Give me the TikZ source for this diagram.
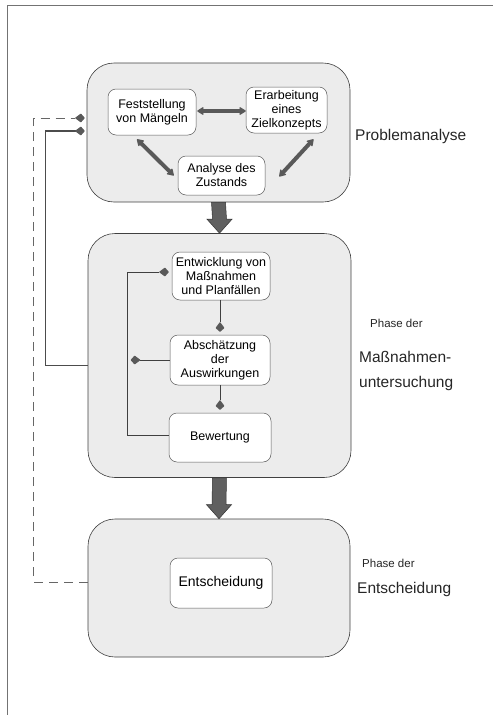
\documentclass[tikz,border=0pt]{standalone}
\usepackage{fontspec}
\setmainfont{Liberation Sans}
\usetikzlibrary{arrows.meta,calc}

\tikzset{
  phase/.style={draw=black!75, line width=0.6pt, fill=gray!15,
    rounded corners=27pt, inner sep=0pt},
  stepbox/.style={draw=black!65, line width=0.5pt, fill=white,
    rounded corners=8pt, align=center, inner sep=1pt,
    font=\fontsize{12.5}{14}\selectfont},
  biglabel/.style={anchor=west, align=left, inner sep=0pt,
    font=\fontsize{15.5}{25}\selectfont, text=black!85},
  smalllabel/.style={anchor=west, inner sep=0pt,
    font=\fontsize{11.5}{13}\selectfont, text=black!85},
  blobtip/.tip={Kite[length=10pt,width=9pt,inset=6pt,round,line width=1pt,
    fill=gray!70!black, color=gray!70!black]},
  twoway/.style={draw=gray!70!black, line width=4pt,
    {Stealth[length=8pt,width=10pt,round]}-{Stealth[length=8pt,width=10pt,round]}},
  blob/.style={-blobtip, draw=black!75, line width=0.6pt, shorten >=3pt},
  feedback/.style={draw=black!70, line width=1.4pt, -blobtip, shorten >=2pt},
  feedbackdash/.style={draw=black!60, line width=0.6pt, dash pattern=on 9pt off 6pt,
    -blobtip, shorten >=2pt},
  bigarrow/.style={draw=black!80, line width=0.5pt, fill=gray!75!black},
}

\begin{document}
\begin{tikzpicture}[x=1pt, y=-1pt]
\useasboundingbox (0,0) rectangle (493,715);

% page frame
\draw[black!55, line width=0.7pt] (7,715) -- (7,5) -- (493,5);

% the three phases
\node[phase, minimum width=263pt, minimum height=139pt] (P1) at (218.5,132.5) {};
\node[phase, minimum width=263pt, minimum height=244pt] (P2) at (219.5,355.5) {};
\node[phase, minimum width=262pt, minimum height=138pt] (P3) at (219,588) {};

% Problemanalyse
\node[stepbox, minimum width=88pt, minimum height=46pt] (Fest) at (152,112)
  {Feststellung\\von Mängeln};
\node[stepbox, minimum width=81pt, minimum height=46pt] (Erar) at (286.5,110)
  {Erarbeitung\\eines\\Zielkonzepts};
\node[stepbox, minimum width=87pt, minimum height=39pt] (Anal) at (221.5,175.5)
  {Analyse des\\Zustands};

\draw[twoway] (Fest.east) ++(1,-1) coordinate (fe) -- (fe -| Erar.west);
\draw[twoway] ($(Fest.south)+(-15,4)$) -- ($(Anal.west)+(-4,0)$);
\draw[twoway] ($(Erar.south)+(27,6)$) -- ($(Anal.east)+(14,1)$);

% Maßnahmenuntersuchung
\node[stepbox, minimum width=98pt, minimum height=48pt] (Entw) at (221,276)
  {Entwicklung von\\Maßnahmen\\und Planfällen};
\node[stepbox, minimum width=100pt, minimum height=50pt] (Absch) at (220,360)
  {Abschätzung\\der\\Auswirkungen};
\node[stepbox, minimum width=102pt, minimum height=49pt] (Bew) at (220,437.5)
  {Bewertung};

\draw[blob] (Entw.south -| Absch.north) -- (Absch.north);
\draw[blob] (Absch.south) -- (Bew.north);
\coordinate (loop) at ($(Bew.west)+(-41,-2)$);
\draw[blob] ($(Bew.west)+(0,-2)$) -- (loop) |- ($(Entw.west)+(0,-4)$);
\draw[blob] (Absch.west) -- (Absch.west -| loop);

% Entscheidung
\node[stepbox, minimum width=102pt, minimum height=50pt,
  font=\fontsize{14}{16}\selectfont] (Ents) at (221,583) {Entscheidung};

% transitions between the phases
\foreach \a/\b in {P1/P2, P2/P3}{
  \draw[bigarrow] ($(\a.south)+(-7,0)$) -- ($(\b.north)+(-7,-14)$) -- ++(-5.5,0)
    -- (\b.north) -- ($(\b.north)+(12.5,-14)$) -- ++(-5.5,0)
    -- ($(\a.south)+(7,0)$) -- cycle;
}

% returns to the problem analysis
\draw[feedback] ($(P2.west)+(0,10)$) -- ++(-42,0) |- ($(P1.west)+(0,-1.5)$);
\draw[feedbackdash] ($(P3.west)+(0,-6)$) -- ++(-54,0) |- ($(P1.west)+(0,-14.5)$);

% phase names
\node[biglabel] (L1) at (355,136) {Problemanalyse};
\node[smalllabel] (L2a) at (370,323) {Phase der};
\node[biglabel] (L2b) at (359,370.5) {Maßnahmen-\\untersuchung};
\node[smalllabel] (L3a) at (362,563) {Phase der};
\node[biglabel] (L3b) at (357,589) {Entscheidung};
\end{tikzpicture}
\end{document}
